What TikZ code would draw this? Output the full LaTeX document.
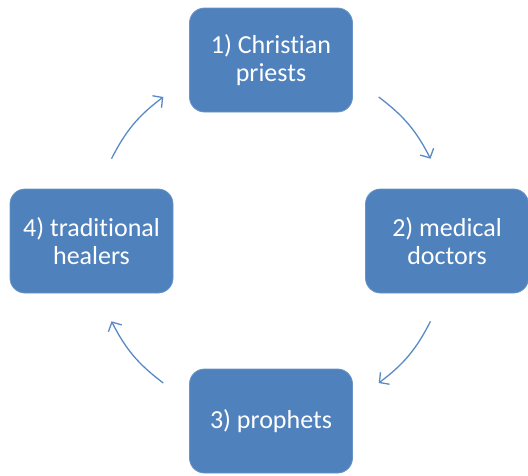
\documentclass[tikz,border=0pt]{standalone}
\usepackage{fontspec}
\setmainfont[Ligatures=NoCommon]{Carlito}
\usetikzlibrary{arrows.meta}
\definecolor{boxblue}{HTML}{4F81BD}
\definecolor{arrowblue}{HTML}{5A8AC6}
\begin{document}
\begin{tikzpicture}[x=1pt,y=-1pt,
  stagebox/.style={draw=boxblue!85!white, line width=0.8pt, fill=boxblue, rounded corners=15pt,
    minimum width=163pt, minimum height=104pt, text=white, align=center,
    font=\fontsize{26}{28}\selectfont, inner sep=0pt},
  cyclearrow/.style={draw=arrowblue, line width=1.3pt, -{Straight Barb[length=7pt,width=15pt]}}]
\useasboundingbox (0,0) rectangle (528,475);
\node[stagebox] (n1) at (271,60) {1) Christian\\priests};
\node[stagebox] (n2) at (447,241) {2) medical\\doctors};
\node[stagebox] (n3) at (271,421) {3) prophets};
\node[stagebox] (n4) at (91.5,241) {4) traditional\\healers};
\coordinate (a1s) at (378.7,97.0);
\coordinate (a1e) at (430.5,158.7);
\coordinate (a2s) at (430.5,321.3);
\coordinate (a2e) at (378.7,383.0);
\coordinate (a3s) at (163.3,383.0);
\coordinate (a3e) at (111.5,321.3);
\coordinate (a4s) at (111.5,158.7);
\coordinate (a4e) at (163.3,97.0);
\draw[cyclearrow] (a1s) to[bend left=13] (a1e);
\draw[cyclearrow] (a2s) to[bend left=13] (a2e);
\draw[cyclearrow] (a3s) to[bend left=13] (a3e);
\draw[cyclearrow] (a4s) to[bend left=13] (a4e);
\end{tikzpicture}
\end{document}
